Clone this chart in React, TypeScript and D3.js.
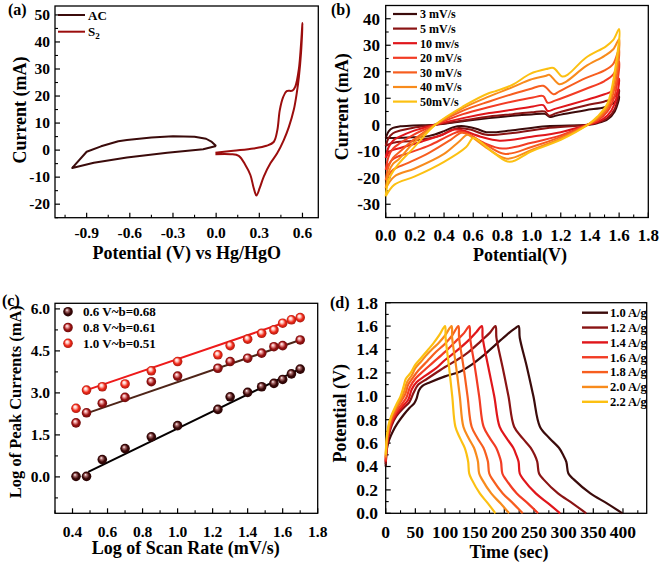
import React from 'react';
import * as d3 from 'd3';

type Pt = [number, number];

// ---------------- Panel (a) ----------------
const aLegend = ['AC', 'S2'];
const acCurve: Pt[] = [
  [0.0, 1.5], [-0.03, 3.0], [-0.07, 4.2], [-0.15, 4.9], [-0.3, 5.1], [-0.45, 4.7], [-0.62, 3.7],
  [-0.68, 3.3], [-0.8, 1.4], [-0.9, -0.6], [-1.0, -6.6], [-0.85, -4.7], [-0.62, -2.7],
  [-0.34, -1.0], [-0.09, 0.3], [0.0, 1.5],
];
const s2Curve: Pt[] = [
  [-0.005, -1.0], [0.12, -0.25], [0.26, 0.6], [0.35, 1.6], [0.4, 3.0], [0.425, 7.3], [0.442, 14.7],
  [0.465, 19.5], [0.49, 21.8], [0.53, 22.0], [0.55, 23.5], [0.575, 30], [0.6, 47],
  [0.59, 36], [0.575, 27], [0.56, 21], [0.54, 15], [0.505, 8.5], [0.47, 3.7], [0.424, -1.2],
  [0.377, -4.9], [0.331, -9.8], [0.303, -14], [0.28, -16.8], [0.261, -14], [0.238, -9.2],
  [0.203, -5.5], [0.157, -2.1], [0.1, -1.5], [-0.005, -1.5],
];
const aXTicks = [-0.9, -0.6, -0.3, 0.0, 0.3, 0.6];
const aXMinor = [-1.05, -0.75, -0.45, -0.15, 0.15, 0.45];
const aYTicks = [-20, -10, 0, 10, 20, 30, 40, 50];
const aYMinor = [-25, -15, -5, 5, 15, 25, 35, 45];

// ---------------- Panel (b) ----------------
const bLegend = ['3 mV/s', '5 mV/s', '10 mv/s', '20 mV/s', '30 mV/s', '40 mV/s', '50mV/s'];
const cv3: Pt[] = [
  [0, -5], [0.02, -2.5], [0.05, -1.2], [0.1, -0.6], [0.19, -0.3], [0.34, 0], [0.53, 1.3], [0.71, 2.5],
  [0.87, 3.4], [1.0, 3.9], [1.09, 4.1], [1.13, 2.9], [1.17, 3.5], [1.37, 5.5], [1.5, 6.6], [1.56, 8], [1.6, 10.7],
  [1.57, 5], [1.52, 2], [1.45, 0.6], [1.385, 0], [1.1, -0.6], [0.87, -2.1], [0.69, -2.8], [0.62, -1.5],
  [0.52, -0.5], [0.46, -1.0], [0.4, -2.4], [0.3, -4.2], [0.15, -4.8], [0, -5],
];
const cv5: Pt[] = [
  [0, -8], [0.02, -5], [0.05, -3.2], [0.1, -2.2], [0.19, -1.1], [0.34, 0], [0.53, 1.6], [0.71, 3.1],
  [0.87, 4.0], [1.0, 4.7], [1.09, 5.0], [1.12, 3.4], [1.17, 4.4], [1.37, 7.3], [1.5, 8.8], [1.56, 10], [1.6, 13.2],
  [1.57, 6], [1.52, 2.5], [1.45, 0.8], [1.385, 0], [1.1, -1.3], [0.87, -3.1], [0.69, -3.8], [0.58, -1.8],
  [0.5, -1.2], [0.44, -2.2], [0.37, -4.2], [0.19, -6], [0.05, -6.8], [0, -8],
];
const cv10: Pt[] = [
  [0, -12.5], [0.02, -8.5], [0.05, -6], [0.1, -4.4], [0.19, -2.3], [0.34, 0], [0.53, 2.5], [0.71, 4.4],
  [0.87, 5.7], [1.01, 6.9], [1.08, 7.4], [1.11, 5.2], [1.16, 6], [1.37, 9.3], [1.5, 11.5], [1.56, 13], [1.6, 17.4],
  [1.57, 8], [1.52, 3.5], [1.45, 1], [1.385, 0], [1.2, -2.8], [1.0, -4.5], [0.78, -6], [0.65, -4.5],
  [0.52, -2], [0.47, -1.8], [0.4, -3.5], [0.25, -6.3], [0.1, -8.8], [0.03, -10], [0, -12.5],
];
const cv20: Pt[] = [
  [0, -17], [0.02, -12], [0.05, -9], [0.1, -6.9], [0.19, -3.8], [0.34, 0], [0.53, 4], [0.71, 6.7],
  [0.87, 8.8], [1.01, 10.3], [1.08, 10.8], [1.11, 8.3], [1.16, 9.1], [1.37, 13.5], [1.5, 16.5], [1.56, 19], [1.6, 23.9],
  [1.57, 11], [1.52, 5], [1.45, 1.5], [1.385, 0], [1.2, -4], [1.0, -6.8], [0.8, -9], [0.68, -7],
  [0.55, -3], [0.5, -2.6], [0.42, -4.5], [0.3, -7.8], [0.15, -10.8], [0.05, -13], [0, -17],
];
const cv30: Pt[] = [
  [0, -21], [0.02, -15.7], [0.05, -12.5], [0.1, -10], [0.19, -5.7], [0.34, 0], [0.53, 5.3], [0.71, 8.8],
  [0.87, 11.6], [0.99, 13.5], [1.08, 14.7], [1.15, 11.5], [1.19, 12.6], [1.37, 17.6], [1.5, 20.5], [1.56, 23], [1.6, 28.6],
  [1.57, 14], [1.52, 6], [1.45, 2], [1.385, 0], [1.2, -4.6], [1.0, -8.4], [0.82, -11], [0.7, -8],
  [0.58, -4], [0.52, -3], [0.45, -5.5], [0.3, -10.5], [0.15, -14.5], [0.05, -17], [0, -21],
];
const cv40: Pt[] = [
  [0, -24], [0.02, -18], [0.05, -14.8], [0.09, -13], [0.19, -6.9], [0.34, 0], [0.53, 6.3], [0.71, 10.7],
  [0.87, 14.2], [0.99, 17], [1.1, 18.5], [1.12, 18.9], [1.19, 15.3], [1.24, 16.4], [1.37, 22], [1.5, 26], [1.56, 28.5], [1.6, 32.3],
  [1.57, 17], [1.52, 7], [1.45, 2.5], [1.385, 0], [1.2, -5.2], [1.0, -9.5], [0.83, -12.8], [0.7, -9],
  [0.6, -5], [0.56, -3.8], [0.5, -6.5], [0.4, -11], [0.2, -16.5], [0.06, -19.5], [0, -24],
];
const cv50: Pt[] = [
  [0, -27], [0.02, -20.8], [0.075, -15.7], [0.19, -8.8], [0.34, 0], [0.53, 6.9], [0.71, 12], [0.75, 12.6],
  [0.87, 15.1], [0.99, 19.2], [1.1, 21], [1.15, 21.4], [1.21, 18.2], [1.25, 19], [1.37, 25.2], [1.51, 29.6], [1.56, 32], [1.6, 36.1],
  [1.57, 20], [1.52, 8], [1.45, 3], [1.385, 0], [1.2, -5.7], [1.0, -10], [0.85, -14], [0.75, -11],
  [0.65, -6.5], [0.6, -5], [0.55, -8.5], [0.4, -14], [0.2, -19.5], [0.06, -22.6], [0, -27],
];
const bXTicks = [0, 0.2, 0.4, 0.6, 0.8, 1.0, 1.2, 1.4, 1.6, 1.8];
const bXMinor = [0.1, 0.3, 0.5, 0.7, 0.9, 1.1, 1.3, 1.5, 1.7];
const bYTicks = [-30, -20, -10, 0, 10, 20, 30, 40];
const bYMinor = [-35, -25, -15, -5, 5, 15, 25, 35];

// ---------------- Panel (c) ----------------
const cLegend = ['0.6 V~b=0.68', '0.8 V~b=0.61', '1.0 V~b=0.51'];
const logRate06 = [0.42, 0.48, 0.57, 0.70, 0.85, 1.00, 1.23, 1.30, 1.40, 1.48, 1.55, 1.60, 1.65, 1.70];
const logPeak06 = [0.02, 0.02, 0.62, 1.01, 1.43, 1.83, 2.41, 2.86, 3.02, 3.22, 3.34, 3.48, 3.68, 3.85];
const logRate08 = [0.42, 0.48, 0.57, 0.70, 0.85, 1.00, 1.23, 1.30, 1.40, 1.48, 1.55, 1.60, 1.70];
const logPeak08 = [1.93, 2.29, 2.63, 2.84, 3.40, 3.60, 3.88, 4.12, 4.24, 4.42, 4.65, 4.69, 4.89];
const logRate10 = [0.42, 0.48, 0.57, 0.70, 0.85, 1.00, 1.23, 1.30, 1.40, 1.48, 1.55, 1.60, 1.65, 1.70];
const logPeak10 = [2.45, 3.10, 3.22, 3.32, 3.79, 4.12, 4.36, 4.69, 4.92, 5.13, 5.25, 5.49, 5.61, 5.69];
const fit06: Pt[] = [[0.49, 0.18], [1.70, 3.86]];
const fit08: Pt[] = [[0.48, 2.27], [1.70, 4.89]];
const fit10: Pt[] = [[0.48, 3.10], [1.70, 5.70]];
const cXTicks = [0.4, 0.6, 0.8, 1.0, 1.2, 1.4, 1.6, 1.8];
const cXMinor = [0.3, 0.5, 0.7, 0.9, 1.1, 1.3, 1.5, 1.7];
const cYTicks = [0, 1.5, 3.0, 4.5, 6.0];
const cYMinor = [-0.75, 0.75, 2.25, 3.75, 5.25];

// ---------------- Panel (d) ----------------
const dLegend = ['1.0 A/g', '1.2 A/g', '1.4 A/g', '1.6 A/g', '1.8 A/g', '2.0 A/g', '2.2 A/g'];
const gcd10: Pt[] = [
  [0, 0.40], [2, 0.55], [6, 0.63], [12, 0.70], [20, 0.77], [30, 0.84], [40, 0.90], [48, 0.94], [52, 0.98],
  [56, 1.05], [62, 1.09], [75, 1.12], [100, 1.17], [125, 1.21], [145, 1.27], [165, 1.35], [185, 1.44],
  [205, 1.53], [218, 1.58], [224, 1.60],
  [226, 1.50], [238, 1.25], [249, 1.0], [260, 0.74], [276.5, 0.64], [292, 0.56], [299, 0.50], [304.5, 0.44],
  [308, 0.34], [317, 0.29], [345, 0.17], [373, 0.085], [399, 0],
];
const gcd12: Pt[] = [
  [0, 0.42], [2, 0.57], [5, 0.66], [10, 0.75], [18, 0.83], [30, 0.90], [40, 0.95], [47, 1.03], [55, 1.10],
  [70, 1.15], [100, 1.25], [120, 1.31], [140, 1.38], [160, 1.47], [175, 1.54], [185, 1.60],
  [186.7, 1.50], [197, 1.25], [207, 1.0], [216.5, 0.74], [231, 0.64], [244.5, 0.56], [251, 0.50], [255.5, 0.44],
  [258.5, 0.34], [266, 0.29], [290.5, 0.17], [315, 0.085], [338, 0],
];
const gcd14: Pt[] = [
  [0, 0.44], [2, 0.58], [5, 0.68], [10, 0.77], [18, 0.85], [28, 0.91], [38, 0.97], [44, 1.06], [52, 1.12],
  [65, 1.17], [85, 1.24], [100, 1.31], [120, 1.39], [140, 1.48], [153, 1.55], [162, 1.60],
  [163.5, 1.50], [173, 1.25], [183, 1.0], [192, 0.74], [204, 0.64], [215, 0.56], [220, 0.50], [224, 0.44],
  [226, 0.34], [232, 0.29], [253, 0.17], [274, 0.085], [294, 0],
];
const gcd16: Pt[] = [
  [0, 0.45], [2, 0.60], [5, 0.70], [10, 0.79], [18, 0.87], [27, 0.93], [35, 0.99], [41, 1.08], [50, 1.15],
  [60, 1.20], [80, 1.29], [100, 1.38], [120, 1.48], [132, 1.54], [141, 1.60],
  [142.3, 1.50], [150.3, 1.25], [157.6, 1.0], [165, 0.74], [175.8, 0.64], [186.2, 0.56], [190.9, 0.50],
  [194.4, 0.44], [196.7, 0.34], [202.5, 0.29], [221, 0.17], [239.6, 0.085], [257, 0],
];
const gcd18: Pt[] = [
  [0, 0.47], [2, 0.62], [5, 0.72], [10, 0.81], [18, 0.89], [25, 0.95], [33, 1.02], [38, 1.10], [46, 1.16],
  [55, 1.22], [70, 1.30], [85, 1.38], [100, 1.45], [112, 1.52], [122.5, 1.60],
  [123.7, 1.50], [131.2, 1.25], [138, 1.0], [144.9, 0.74], [155, 0.64], [164.8, 0.56], [169.2, 0.50],
  [172.4, 0.44], [174.6, 0.34], [180, 0.29], [197.4, 0.17], [214.7, 0.085], [231, 0],
];
const gcd20: Pt[] = [
  [0, 0.48], [2, 0.64], [5, 0.74], [10, 0.83], [18, 0.91], [25, 0.97], [31, 1.04], [36, 1.12], [44, 1.18],
  [50, 1.24], [60, 1.30], [70, 1.36], [80, 1.41], [90, 1.46], [100, 1.52], [111, 1.60],
  [112, 1.50], [118.8, 1.25], [124.9, 1.0], [131, 0.74], [140.1, 0.64], [148.8, 0.56], [152.7, 0.50],
  [155.6, 0.44], [157.6, 0.34], [162.4, 0.29], [177.9, 0.17], [193.5, 0.085], [208, 0],
];
const gcd22: Pt[] = [
  [0, 0.50], [2, 0.66], [5, 0.76], [10, 0.84], [18, 0.93], [25, 1.0], [30, 1.08], [34, 1.15], [42, 1.20],
  [50, 1.27], [60, 1.33], [70, 1.39], [80, 1.45], [90, 1.52], [100, 1.60],
  [101, 1.50], [106.8, 1.25], [112.2, 1.0], [117.5, 0.74], [125.5, 0.64], [133.2, 0.56], [136.6, 0.50],
  [139.1, 0.44], [140.8, 0.34], [145, 0.29], [158.7, 0.17], [172.3, 0.085], [185, 0],
];
const dXTicks = [0, 50, 100, 150, 200, 250, 300, 350, 400];
const dXMinor = [25, 75, 125, 175, 225, 275, 325, 375, 425];
const dYTicks = [0, 0.2, 0.4, 0.6, 0.8, 1.0, 1.2, 1.4, 1.6, 1.8];
const dYMinor = [0.1, 0.3, 0.5, 0.7, 0.9, 1.1, 1.3, 1.5, 1.7];

// ---------------- styling ----------------
const seriesColors = ['#3b0b0b', '#8a1414', '#e0161b', '#f23c24', '#f75e1f', '#f88b1c', '#fcc012'];
const FONT = "'Liberation Serif', 'Times New Roman', serif";

type Lin = d3.ScaleLinear<number, number>;

function Axes(props: {
  x: Lin; y: Lin; xt: number[]; xm: number[]; yt: number[]; ym: number[];
  xf: (v: number) => string; yf: (v: number) => string; fs: number; xLabY: number; yLabX: number;
}) {
  const { x, y, xt, xm, yt, ym, xf, yf, fs, xLabY, yLabX } = props;
  const [x0, x1] = x.range();
  const [y0, y1] = y.range();
  return (
    <g>
      <rect x={x0} y={y1} width={x1 - x0} height={y0 - y1} fill="none" stroke="#000" strokeWidth={1.3} />
      {xt.map((v) => (
        <g key={'xt' + v}>
          <line x1={x(v)} x2={x(v)} y1={y0} y2={y0 - 5} stroke="#000" strokeWidth={1.2} />
          <text x={x(v)} y={xLabY} fontSize={fs} textAnchor="middle">{xf(v)}</text>
        </g>
      ))}
      {xm.map((v) => (
        <line key={'xm' + v} x1={x(v)} x2={x(v)} y1={y0} y2={y0 - 3} stroke="#000" strokeWidth={1.1} />
      ))}
      {yt.map((v) => (
        <g key={'yt' + v}>
          <line x1={x0} x2={x0 + 5} y1={y(v)} y2={y(v)} stroke="#000" strokeWidth={1.2} />
          <text x={yLabX} y={y(v) + fs * 0.34} fontSize={fs} textAnchor="end">{yf(v)}</text>
        </g>
      ))}
      {ym.map((v) => (
        <line key={'ym' + v} x1={x0} x2={x0 + 3} y1={y(v)} y2={y(v)} stroke="#000" strokeWidth={1.1} />
      ))}
    </g>
  );
}

const f1 = (v: number) => v.toFixed(1);
const f0 = (v: number) => v.toFixed(0);

export default function App() {
  // scales
  const xa = d3.scaleLinear().domain([-1.12, 0.71]).range([55, 318.3]);
  const ya = d3.scaleLinear().domain([-25, 53.3]).range([217.7, 6]);
  const xb = d3.scaleLinear().domain([0, 1.8]).range([385.7, 648.3]);
  const yb = d3.scaleLinear().domain([-35, 45]).range([217.5, 5.5]);
  const xc = d3.scaleLinear().domain([0.3, 1.8]).range([55, 317.7]);
  const yc = d3.scaleLinear().domain([-1.3, 6.2]).range([513.3, 303.3]);
  const xd = d3.scaleLinear().domain([0, 440]).range([385.7, 646.7]);
  const yd = d3.scaleLinear().domain([0, 1.8]).range([513.3, 302.7]);

  const lineA = d3.line<Pt>().x((d) => xa(d[0])).y((d) => ya(d[1]));
  const lineAs = d3.line<Pt>().x((d) => xa(d[0])).y((d) => ya(d[1])).curve(d3.curveCatmullRom.alpha(0.5));
  const lineB = d3.line<Pt>().x((d) => xb(d[0])).y((d) => yb(d[1])).curve(d3.curveCatmullRom.alpha(0.5));
  const lineC = d3.line<Pt>().x((d) => xc(d[0])).y((d) => yc(d[1]));
  const lineD = d3.line<Pt>().x((d) => xd(d[0])).y((d) => yd(d[1])).curve(d3.curveCatmullRom.alpha(0.5));

  const cvSeries = [cv3, cv5, cv10, cv20, cv30, cv40, cv50];
  const gcdSeries = [gcd10, gcd12, gcd14, gcd16, gcd18, gcd20, gcd22];

  const cSeries = [
    { xs: logRate06, ys: logPeak06, fit: fit06, base: '#3a0808', light: '#b07070', lineColor: '#050000' },
    { xs: logRate08, ys: logPeak08, fit: fit08, base: '#9a1212', light: '#f0a0a0', lineColor: '#4e2418' },
    { xs: logRate10, ys: logPeak10, fit: fit10, base: '#f02818', light: '#ffd0c8', lineColor: '#ee1a1a' },
  ];

  return (
    <svg
      width={661}
      height={565}
      style={{ position: 'absolute', left: 0, top: 0, background: '#fff' }}
      fontFamily={FONT}
      fontWeight="bold"
    >
      <defs>
        {cSeries.map((s, i) => (
          <radialGradient key={i} id={'ball' + i} cx="0.5" cy="0.5" r="0.55" fx="0.38" fy="0.32">
            <stop offset="0" stopColor="#ffffff" />
            <stop offset="0.25" stopColor={s.light} />
            <stop offset="0.6" stopColor={s.base} />
            <stop offset="1" stopColor={d3.color(s.base)!.darker(1.2).formatHex()} />
          </radialGradient>
        ))}
      </defs>

      {/* ---------- Panel (a) ---------- */}
      <Axes x={xa} y={ya} xt={aXTicks} xm={aXMinor} yt={aYTicks} ym={aYMinor}
        xf={f1} yf={f0} fs={15.5} xLabY={238} yLabX={50} />
      <path d={lineA(acCurve) ?? ''} fill="none" stroke={seriesColors[0]} strokeWidth={2} strokeLinejoin="round" />
      <path d={lineAs(s2Curve) ?? ''} fill="none" stroke="#9b0d0d" strokeWidth={2} strokeLinejoin="round" />
      <g>
        <line x1={58} x2={85} y1={15} y2={15} stroke={seriesColors[0]} strokeWidth={2} />
        <text x={88} y={19.5} fontSize={13}>{aLegend[0]}</text>
        <line x1={58} x2={85} y1={31.7} y2={31.7} stroke="#9b0d0d" strokeWidth={2} />
        <text x={88} y={36.2} fontSize={13}>
          {aLegend[1].slice(0, 1)}
          <tspan fontSize={9} dy={3}>{aLegend[1].slice(1)}</tspan>
        </text>
      </g>
      <text x={20} y={110} fontSize={18} textAnchor="middle" transform="rotate(-90 20 110)" dy={6}>Current (mA)</text>
      <text x={186.7} y={259} fontSize={18} textAnchor="middle">Potential (V) vs Hg/HgO</text>
      <text x={8} y={15} fontSize={16}>(a)</text>

      {/* ---------- Panel (b) ---------- */}
      <Axes x={xb} y={yb} xt={bXTicks} xm={bXMinor} yt={bYTicks} ym={bYMinor}
        xf={f1} yf={f0} fs={17} xLabY={240.5} yLabX={380} />
      {cvSeries.map((s, i) => (
        <path key={i} d={lineB(s) ?? ''} fill="none" stroke={seriesColors[i]} strokeWidth={2} strokeLinejoin="round" />
      ))}
      {bLegend.map((t, i) => (
        <g key={t}>
          <line x1={393} x2={417} y1={14 + i * 14.6} y2={14 + i * 14.6} stroke={seriesColors[i]} strokeWidth={2.2} />
          <text x={420} y={14 + i * 14.6 + 4.3} fontSize={12}>{t}</text>
        </g>
      ))}
      <text x={342} y={106.7} fontSize={18} textAnchor="middle" transform="rotate(-90 342 106.7)" dy={6}>Current (mA)</text>
      <text x={520} y={260.5} fontSize={18} textAnchor="middle">Potential(V)</text>
      <text x={331} y={15} fontSize={16}>(b)</text>

      {/* ---------- Panel (c) ---------- */}
      <Axes x={xc} y={yc} xt={cXTicks} xm={cXMinor} yt={cYTicks} ym={cYMinor}
        xf={f1} yf={f1} fs={15.5} xLabY={536.5} yLabX={50} />
      {cSeries.map((s, i) => (
        <path key={'fit' + i} d={lineC(s.fit) ?? ''} fill="none" stroke={s.lineColor} strokeWidth={2} />
      ))}
      {cSeries.map((s, i) => (
        <g key={'pts' + i}>
          {s.xs.map((xv, j) => (
            <circle key={j} cx={xc(xv)} cy={yc(s.ys[j])} r={4.8} fill={`url(#ball${i})`} />
          ))}
        </g>
      ))}
      {cLegend.map((t, i) => (
        <g key={t}>
          <circle cx={68} cy={311.7 + i * 15.8} r={4.8} fill={`url(#ball${i})`} />
          <text x={83} y={311.7 + i * 15.8 + 4.5} fontSize={13}>{t}</text>
        </g>
      ))}
      <text x={16} y={401.7} fontSize={16.5} textAnchor="middle" transform="rotate(-90 16 401.7)" dy={5.5}>Log of Peak Currents (mA)</text>
      <text x={185.8} y={554} fontSize={18} textAnchor="middle">Log of Scan Rate (mV/s)</text>
      <text x={2} y={306} fontSize={16}>(c)</text>

      {/* ---------- Panel (d) ---------- */}
      <Axes x={xd} y={yd} xt={dXTicks} xm={dXMinor} yt={dYTicks} ym={dYMinor}
        xf={f0} yf={f1} fs={17.5} xLabY={538} yLabX={378} />
      {gcdSeries.map((s, i) => (
        <path key={i} d={lineD(s) ?? ''} fill="none" stroke={seriesColors[i]} strokeWidth={2.2} strokeLinejoin="round" />
      ))}
      {dLegend.map((t, i) => (
        <g key={t}>
          <line x1={582} x2={608} y1={312.7 + i * 14.85} y2={312.7 + i * 14.85} stroke={seriesColors[i]} strokeWidth={2.4} />
          <text x={610} y={312.7 + i * 14.85 + 4.3} fontSize={12.5}>{t}</text>
        </g>
      ))}
      <text x={340} y={413.3} fontSize={18} textAnchor="middle" transform="rotate(-90 340 413.3)" dy={6}>Potential (V)</text>
      <text x={509} y={558.3} fontSize={18} textAnchor="middle">Time (sec)</text>
      <text x={330} y={308} fontSize={16}>(d)</text>
    </svg>
  );
}
